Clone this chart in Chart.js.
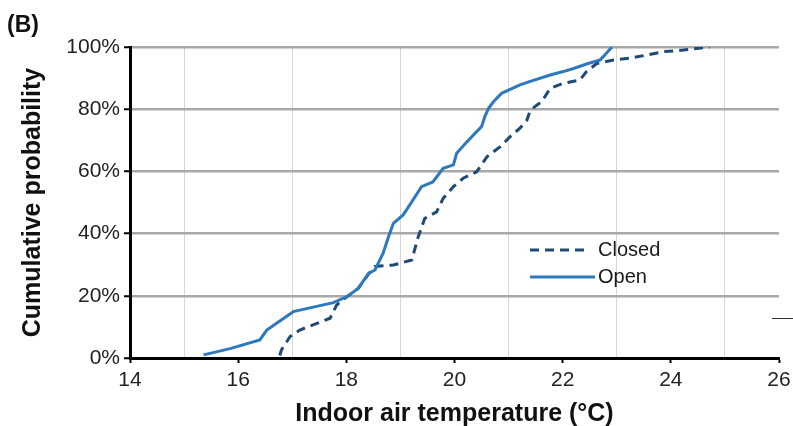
<!DOCTYPE html>
<html>
<head>
<meta charset="utf-8">
<script src="https://cdn.jsdelivr.net/npm/chart.js@4.4.0/dist/chart.umd.min.js"></script>
<style>
    html, body { margin: 0; padding: 0; background: #fff; }
</style>
</head>
<body>
<canvas id="cdfchart" width="793" height="426"></canvas>
<script>
// values (temperature in °C, cumulative probability in %)
var closedTemp = [16.77, 16.80, 16.96, 17.14, 17.70, 17.82, 18.01, 18.22, 18.41, 18.53, 18.87, 19.21, 19.33, 19.45,
    19.67, 19.79, 19.98, 20.16, 20.41, 20.60, 20.84, 21.03, 21.21, 21.34, 21.40, 21.61, 21.77, 22.01, 22.32, 22.44,
    22.63, 22.94, 23.25, 23.55, 23.86, 24.23, 24.72];
var closedProb = [0.8, 2.6, 6.9, 9.0, 12.8, 17.0, 19.7, 22.4, 27.0, 29.4, 29.9, 31.5, 39.0, 44.9,
    47.0, 51.3, 55.1, 57.8, 59.9, 64.7, 67.9, 71.2, 73.9, 76.5, 79.7, 82.4, 86.7, 88.3, 89.4, 92.1,
    94.7, 95.8, 96.4, 97.4, 98.5, 99.0, 100];

var openTemp = [15.36, 15.85, 16.40, 16.53, 16.71, 17.02, 17.76, 18.01, 18.22, 18.41, 18.53, 18.68, 18.78, 18.87,
    19.05, 19.15, 19.39, 19.60, 19.79, 19.98, 20.04, 20.23, 20.35, 20.50, 20.56, 20.63, 20.72, 20.87, 21.21,
    21.43, 21.77, 22.01, 22.20, 22.47, 22.69, 22.75, 22.91];
var openProb = [1.0, 3.0, 5.8, 9.0, 11.2, 14.9, 17.8, 19.7, 22.4, 27.2, 28.3, 33.7, 39.0, 43.3,
    46.0, 48.6, 55.1, 56.6, 61.0, 62.1, 65.8, 69.5, 71.7, 74.4, 77.6, 80.3, 82.4, 85.1, 87.8,
    89.1, 91.0, 92.1, 93.1, 94.7, 95.8, 96.9, 100];

var seriesNames = ['Closed', 'Open'];
var xTicks = [14, 16, 18, 20, 22, 24, 26];
var yTicks = [0, 20, 40, 60, 80, 100];

var fontName = '"Liberation Sans", Arial, sans-serif';

function toPoints(xs, ys) {
    var pts = [];
    for (var i = 0; i < xs.length; i++) {
        pts.push({x: xs[i], y: ys[i]});
    }
    return pts;
}

var extras = {
    id: 'extras',
    afterDraw: function (chart) {
        var ctx = chart.ctx;
        ctx.save();
        // panel letter
        ctx.fillStyle = '#111';
        ctx.font = 'bold 23px ' + fontName;
        ctx.textBaseline = 'middle';
        ctx.fillText('(B)', 7, 26);

        // legend inside plot
        var rows = [{ds: chart.data.datasets[0], y: 250}, {ds: chart.data.datasets[1], y: 277}];
        rows.forEach(function (r) {
            ctx.beginPath();
            ctx.strokeStyle = r.ds.borderColor;
            ctx.lineWidth = 3;
            ctx.setLineDash(r.ds.borderDash || []);
            ctx.moveTo(530, r.y);
            ctx.lineTo(r.ds.borderDash ? 585 : 595, r.y);
            ctx.stroke();
            ctx.setLineDash([]);
            ctx.fillStyle = '#1a1a1a';
            ctx.font = '20px ' + fontName;
            ctx.fillText(r.ds.label, 598, r.y);
        });

        // small stray mark at right edge of the original figure
        ctx.beginPath();
        ctx.strokeStyle = '#333';
        ctx.lineWidth = 1;
        ctx.moveTo(772, 318.5);
        ctx.lineTo(793, 318.5);
        ctx.stroke();
        ctx.restore();
    }
};

var chart = new Chart(document.getElementById('cdfchart').getContext('2d'), {
    type: 'line',
    data: {
        datasets: [{
            label: seriesNames[0],
            data: toPoints(closedTemp, closedProb),
            borderColor: '#1f4a75',
            borderWidth: 3,
            borderDash: [9, 6],
            pointRadius: 0,
            tension: 0,
            fill: false,
            order: 1
        }, {
            label: seriesNames[1],
            data: toPoints(openTemp, openProb),
            borderColor: '#2e78bd',
            borderWidth: 3,
            pointRadius: 0,
            tension: 0,
            fill: false,
            order: 0
        }]
    },
    options: {
        responsive: false,
        animation: false,
        layout: {padding: {left: 0, right: 14, top: 47, bottom: 0}},
        plugins: {legend: {display: false}, tooltip: {enabled: false}},
        scales: {
            x: {
                type: 'linear',
                min: 14,
                max: 26,
                afterFit: function (scale) {
                    scale.height = 68;
                    scale.paddingLeft = 0;
                    scale.paddingRight = 0;
                },
                border: {display: true, color: '#000', width: 3},
                grid: {
                    color: function (c) { return (c.tick && c.tick.value % 2 !== 0) ? '#d6d6d6' : 'rgba(0,0,0,0)'; },
                    tickColor: function (c) { return (c.tick && c.tick.value % 2 === 0) ? '#000' : 'rgba(0,0,0,0)'; },
                    lineWidth: 1,
                    tickWidth: 2,
                    tickLength: 5
                },
                ticks: {
                    stepSize: 1,
                    autoSkip: false,
                    maxRotation: 0,
                    padding: 5,
                    color: '#222',
                    font: {family: fontName, size: 21},
                    callback: function (v) { return xTicks.indexOf(v) >= 0 ? String(v) : ''; }
                },
                title: {
                    display: true,
                    text: 'Indoor air temperature (°C)',
                    color: '#111',
                    font: {family: fontName, size: 25, weight: 'bold', lineHeight: 1},
                    padding: {top: 0, bottom: -1}
                }
            },
            y: {
                min: 0,
                max: 100,
                afterFit: function (scale) {
                    scale.width = 130;
                    scale.paddingTop = 0;
                    scale.paddingBottom = 0;
                },
                afterBuildTicks: function (scale) {
                    scale.ticks = yTicks.map(function (v) { return {value: v}; });
                },
                border: {display: true, color: '#000', width: 3},
                grid: {
                    color: '#a8a8a8',
                    lineWidth: 2.5,
                    tickColor: '#000',
                    tickWidth: 2,
                    tickLength: 6
                },
                ticks: {
                    padding: 4,
                    color: '#222',
                    font: {family: fontName, size: 21},
                    callback: function (v) { return v + '%'; }
                },
                title: {
                    display: true,
                    text: 'Cumulative probability',
                    color: '#111',
                    font: {family: fontName, size: 25, weight: 'bold', lineHeight: 1.2},
                    padding: {top: 18, bottom: 0}
                }
            }
        }
    },
    plugins: [extras]
});
</script>
</body>
</html>
